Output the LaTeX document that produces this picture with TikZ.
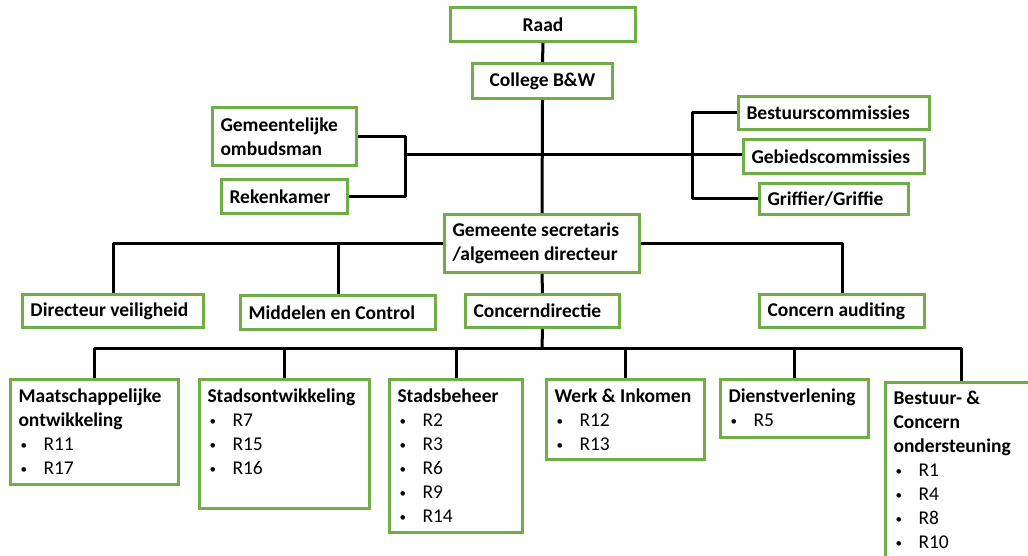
\documentclass[tikz,border=0pt]{standalone}
\usepackage{fontspec}
\setmainfont{Carlito}
\definecolor{boxgreen}{HTML}{70AD47}
\tikzset{
  orgbox/.style={draw=boxgreen, line width=3pt, fill=white, inner xsep=8pt, inner ysep=4pt,
    anchor=north west, font=\bfseries\fontsize{19.5}{24}\selectfont},
  link/.style={line width=3pt, line join=round, draw=black}
}
% name, x1, y1, x2, y2, valign, content
\newcommand\obox[7]{\node[orgbox] (#1) at (#2,#3)
  {\parbox[c][\dimexpr #5pt-#3pt-8pt\relax][#6]{\dimexpr #4pt-#2pt-16pt\relax}{\raggedright #7}};}
\newcommand\itm[1]{\par{\mdseries\hspace*{2pt}\makebox[23pt][l]{\raisebox{1pt}{\fontsize{13}{13}\selectfont\textbullet}}#1}}
\newcommand\tops{\rule{0pt}{19pt}}
\begin{document}
\begin{tikzpicture}[x=1pt,y=-1pt]
\useasboundingbox (0,0) rectangle (1028,556);
\clip (0,0) rectangle (1028,556);
\fill[white] (0,0) rectangle (1028,556);

\coordinate (lj) at (405,155);
\coordinate (rj) at (692,155);
\coordinate (bus) at (542,348);

\obox{raad}{449}{6}{634}{40}{c}{\centering Raad}
\obox{col}{471}{62}{611}{97}{c}{\centering College B\&W}
\obox{omb}{211}{106}{355}{164}{c}{Gemeentelijke\\ombudsman}
\obox{rek}{220}{178}{346}{212}{c}{Rekenkamer}
\obox{bes}{737}{95}{928}{128}{c}{Bestuurscommissies}
\obox{geb}{742}{138}{923}{172}{c}{Gebiedscommissies}
\obox{gri}{758}{182}{907}{213}{c}{Griffier/Griffie}
\obox{gs}{443}{213}{638}{271}{c}{Gemeente secretaris\\/algemeen directeur}
\obox{dv}{21}{293}{202}{326}{c}{Directeur veiligheid}
\obox{mc}{239}{294}{434}{328}{c}{Middelen en Control}
\obox{cd}{464}{293}{618}{326}{c}{Concerndirectie}
\obox{ca}{758}{293}{923}{326}{c}{Concern auditing}

\obox{mo}{9}{378}{177}{483}{t}{\tops Maatschappelijke\\ontwikkeling\itm{R11}\itm{R17}}
\obox{so}{198}{378}{368}{507}{t}{\tops Stadsontwikkeling\itm{R7}\itm{R15}\itm{R16}}
\obox{sb}{388}{378}{521}{531}{t}{\tops Stadsbeheer\itm{R2}\itm{R3}\itm{R6}\itm{R9}\itm{R14}}
\obox{wi}{545}{378}{703}{458}{t}{\tops Werk \& Inkomen\itm{R12}\itm{R13}}
\obox{dl}{719}{378}{867}{436}{t}{\tops Dienstverlening\itm{R5}}
\obox{bc}{884}{381}{1036}{590}{t}{\rule{0pt}{18pt}Bestuur- \&\\Concern\\ondersteuning\itm{R1}\itm{R4}\itm{R8}\itm{R10}}

\draw[link] (raad.south) -- (col.north);
\draw[link] (col.south) -- (gs.north);
\draw[link] (lj) -- (rj);
\draw[link] (omb.east) -| (lj) |- (rek.east);
\draw[link] (bes.west) -| (rj) |- (gri.west);
\draw[link] (rj) -- (rj -| geb.west);
\draw[link] (dv.north) |- (gs.west);
\draw[link] (mc.north) -- (mc.north |- gs.west);
\draw[link] (ca.north) |- (gs.east);
\draw[link] (gs.south) -- (cd.north);
\draw[link] (cd.south) -- (bus);
\draw[link] (mo.north) |- (bus) -| (bc.north);
\draw[link] (so.north) -- (so.north |- bus);
\draw[link] (sb.north) -- (sb.north |- bus);
\draw[link] (wi.north) -- (wi.north |- bus);
\draw[link] (dl.north) -- (dl.north |- bus);
\end{tikzpicture}
\end{document}
